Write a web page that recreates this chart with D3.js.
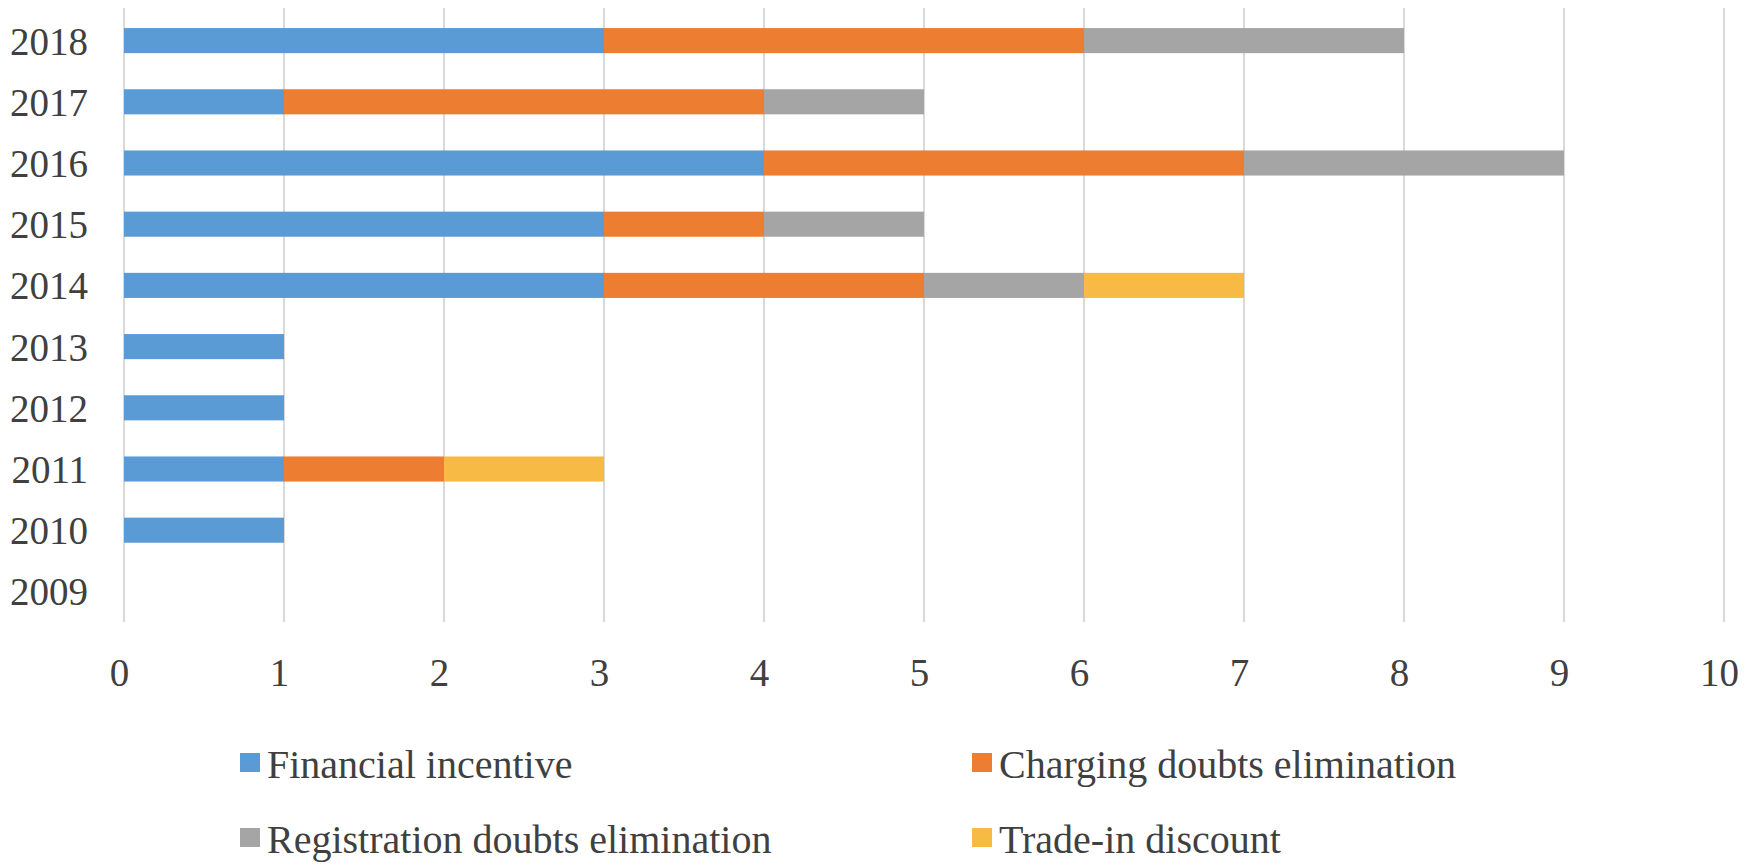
<!DOCTYPE html>
<html>
<head>
<meta charset="utf-8">
<script src="https://cdn.jsdelivr.net/npm/d3@7"></script>
<style>
  body { margin: 0; background: #fff; }
  text { font-family: "Liberation Serif", "Times New Roman", serif; fill: #404040; }
</style>
</head>
<body>
<svg id="chart"></svg>
<script>
// data
const years = ['2018', '2017', '2016', '2015', '2014', '2013', '2012', '2011', '2010', '2009'];
const seriesNames = ['Financial incentive', 'Charging doubts elimination', 'Registration doubts elimination', 'Trade-in discount'];
const financial = [3, 1, 4, 3, 3, 1, 1, 1, 1, 0];
const charging = [3, 3, 3, 1, 2, 0, 0, 1, 0, 0];
const registration = [2, 1, 2, 1, 1, 0, 0, 0, 0, 0];
const tradeIn = [0, 0, 0, 0, 1, 0, 0, 1, 0, 0];
const xTicks = [0, 1, 2, 3, 4, 5, 6, 7, 8, 9, 10];
const colors = ['#5B9BD5', '#ED7D31', '#A5A5A5', '#F7BB45'];

// layout
const width = 1748;
const height = 864;

const svg = d3.select('#chart')
    .attr('width', width)
    .attr('height', height);

// table for the stack
const table = years.map(function(y, i) {
  return {
    year: y,
    'Financial incentive': financial[i],
    'Charging doubts elimination': charging[i],
    'Registration doubts elimination': registration[i],
    'Trade-in discount': tradeIn[i]
  };
});
const stacked = d3.stack().keys(seriesNames)(table);

const x = d3.scaleLinear()
    .domain([0, 10])
    .range([124, 1724]);

const y = d3.scaleBand()
    .domain(years)
    .range([10, 622])
    .paddingInner(0.59)
    .paddingOuter(0.295);

// gridlines
svg.append('g')
    .selectAll('line')
    .data(xTicks)
    .enter()
    .append('line')
    .attr('x1', d => x(d))
    .attr('x2', d => x(d))
    .attr('y1', 8)
    .attr('y2', 622)
    .attr('stroke', '#d9d9d9')
    .attr('stroke-width', 2);

// bars
svg.append('g')
    .selectAll('g')
    .data(stacked)
    .enter()
    .append('g')
    .attr('fill', (d, i) => colors[i])
    .selectAll('rect')
    .data(d => d)
    .enter()
    .filter(d => d[1] - d[0] > 0)
    .append('rect')
    .attr('x', d => x(d[0]))
    .attr('y', d => y(d.data.year))
    .attr('width', d => x(d[1]) - x(d[0]))
    .attr('height', y.bandwidth());

// y labels
const yAxis = svg.append('g')
    .attr('transform', 'translate(124,0)')
    .call(d3.axisLeft(y).tickSize(0).tickPadding(36));
yAxis.select('.domain').remove();
yAxis.selectAll('text')
    .attr('font-size', 39)
    .attr('dy', '0.36em')
    .style('font-family', '"Liberation Serif", serif')
    .style('fill', '#404040');

// x labels
const xAxis = svg.append('g')
    .attr('transform', 'translate(-5,622)')
    .call(d3.axisBottom(x).tickValues(xTicks).tickSize(0).tickPadding(36));
xAxis.select('.domain').remove();
xAxis.selectAll('text')
    .attr('font-size', 39)
    .attr('dy', '0.71em')
    .style('font-family', '"Liberation Serif", serif')
    .style('fill', '#404040');

// legend
const legendPos = [[240, 753], [972, 753], [240, 828], [972, 828]];
const legend = svg.append('g')
    .selectAll('g')
    .data(seriesNames)
    .enter()
    .append('g')
    .attr('transform', (d, i) => 'translate(' + legendPos[i][0] + ',' + legendPos[i][1] + ')');
legend.append('rect')
    .attr('width', 20)
    .attr('height', 19)
    .attr('fill', (d, i) => colors[i]);
legend.append('text')
    .attr('x', 27)
    .attr('y', 25)
    .attr('font-size', 40)
    .text(d => d);
</script>
</body>
</html>
